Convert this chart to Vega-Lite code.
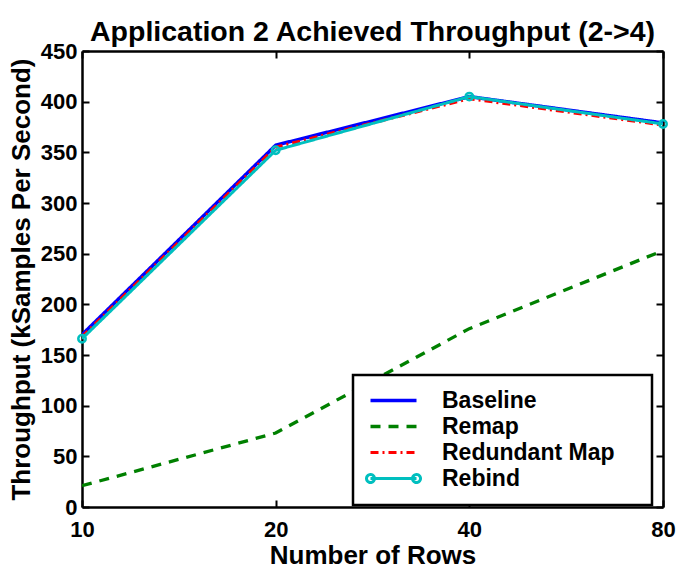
{
  "$schema": "https://vega.github.io/schema/vega-lite/v6.json",
  "width": 581,
  "height": 456,
  "autosize": {"type": "none"},
  "padding": {"left": 82, "top": 51, "right": 14, "bottom": 67},
  "title": {"text": "Application 2 Achieved Throughput (2->4)", "font": "Liberation Sans", "fontSize": 28.5, "fontWeight": "bold", "color": "black", "offset": -6, "anchor": "middle"},
  "config": {
    "view": {"stroke": null},
    "axis": {"domainColor": "black", "domainWidth": 2.5, "tickColor": "black", "tickWidth": 2, "tickSize": -7, "labelFont": "Liberation Sans", "labelFontSize": 22, "labelFontWeight": "bold", "labelColor": "black", "titleFont": "Liberation Sans", "titleFontSize": 26, "titleFontWeight": "bold", "titleColor": "black", "grid": false}
  },
  "data": {"values": [
    {"rows": 10, "series": "Baseline", "v": 170},
    {"rows": 20, "series": "Baseline", "v": 357},
    {"rows": 40, "series": "Baseline", "v": 405},
    {"rows": 80, "series": "Baseline", "v": 379},
    {"rows": 10, "series": "Remap", "v": 21},
    {"rows": 20, "series": "Remap", "v": 73},
    {"rows": 40, "series": "Remap", "v": 176},
    {"rows": 80, "series": "Remap", "v": 253},
    {"rows": 10, "series": "Redundant Map", "v": 168},
    {"rows": 20, "series": "Redundant Map", "v": 355},
    {"rows": 40, "series": "Redundant Map", "v": 403},
    {"rows": 80, "series": "Redundant Map", "v": 377},
    {"rows": 10, "series": "Rebind", "v": 166},
    {"rows": 20, "series": "Rebind", "v": 352},
    {"rows": 40, "series": "Rebind", "v": 405},
    {"rows": 80, "series": "Rebind", "v": 378}
  ]},
  "layer": [
    {
      "mark": {"type": "line", "clip": true},
      "encoding": {
        "x": {"field": "rows", "type": "quantitative", "scale": {"type": "log", "base": 2, "domain": [10, 80], "nice": false}, "axis": {"values": [10, 20, 40, 80], "format": "d", "title": "Number of Rows", "labelPadding": 19, "titlePadding": 2, "labelFlush": false, "encode": {"labels": {"update": {"dx": {"signal": "datum.value === 80 ? -7 : 0"}}}}}},
        "y": {"field": "v", "type": "quantitative", "scale": {"domain": [0, 450], "nice": false}, "axis": {"values": [0, 50, 100, 150, 200, 250, 300, 350, 400, 450], "title": "Throughput (kSamples Per Second)", "labelPadding": 12, "titlePadding": 6}},
        "color": {"field": "series", "type": "nominal", "scale": {"domain": ["Baseline", "Remap", "Redundant Map", "Rebind"], "range": ["#0000ff", "#008000", "#ff0000", "#00bfbf"]},
          "legend": {"title": null, "orient": "none", "legendX": 271, "legendY": 324, "strokeColor": "black", "fillColor": "white", "padding": 14, "rowPadding": 2, "symbolSize": 256, "symbolStrokeWidth": 2.5, "labelOffset": 52, "labelLimit": 0, "labelFont": "Liberation Sans", "labelFontSize": 23, "labelFontWeight": "bold", "labelColor": "black",
            "encode": {
              "legend": {"update": {"strokeWidth": {"value": 2.5}}},
              "symbols": {"update": {"shape": {"signal": "datum.value === 'Rebind' ? 'M-1,0H4.75M-0.5,0A0.5,0.5 0 1,0 -1.5,0A0.5,0.5 0 1,0 -0.5,0M5.25,0A0.5,0.5 0 1,0 4.25,0A0.5,0.5 0 1,0 5.25,0M31.5,0' : 'M-1,0H4.75M31.5,0'"}}}}}},
        "strokeDash": {"field": "series", "type": "nominal", "scale": {"domain": ["Baseline", "Remap", "Redundant Map", "Rebind"], "range": [[1, 0], [10, 8], [8, 4, 2, 4], [1, 0]]}},
        "strokeWidth": {"field": "series", "type": "nominal", "scale": {"domain": ["Baseline", "Remap", "Redundant Map", "Rebind"], "range": [3.5, 3, 2, 3]}, "legend": null},
        "order": {"field": "rows", "type": "quantitative"}
      }
    },
    {
      "transform": [{"filter": "datum.series === 'Rebind'"}],
      "mark": {"type": "point", "filled": false, "color": "#00bfbf", "size": 55, "strokeWidth": 2.5, "opacity": 1, "clip": false},
      "encoding": {
        "x": {"field": "rows", "type": "quantitative", "axis": {"orient": "top", "values": [10, 20, 40, 80], "labels": false, "title": null}},
        "y": {"field": "v", "type": "quantitative", "axis": {"orient": "right", "values": [0, 50, 100, 150, 200, 250, 300, 350, 400, 450], "labels": false, "title": null}}
      }
    }
  ],
  "resolve": {"axis": {"x": "independent", "y": "independent"}}
}
